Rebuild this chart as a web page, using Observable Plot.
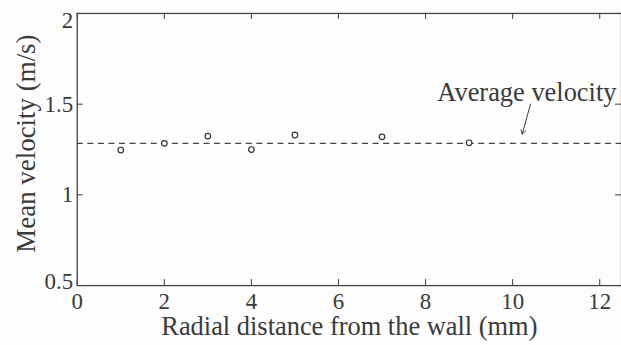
<!DOCTYPE html>
<html>
<head>
<meta charset="utf-8">
<script src="https://cdn.jsdelivr.net/npm/d3@7"></script>
<script src="https://cdn.jsdelivr.net/npm/@observablehq/plot@0.6"></script>
<style>
  html, body { margin: 0; padding: 0; background: #fdfdfd; overflow: hidden; }
  #chart svg { display: block; }
</style>
</head>
<body>
<div id="chart"></div>
<script>
// Data
const distance = [1, 2, 3, 4, 5, 7, 9];               // mm
const velocity = [1.247, 1.284, 1.324, 1.25, 1.33, 1.32, 1.287]; // m/s
const averageVelocity = 1.284;
const xTicks = [0, 2, 4, 6, 8, 10, 12];
const yTicks = [0.5, 1, 1.5, 2];
const xTitle = "Radial distance from the wall (mm)";
const yTitle = "Mean velocity (m/s)";
const annotationText = "Average velocity";
const annotationPos = {x: 8.27, y: 1.515};
const arrowFrom = {x: 10.41, y: 1.50};
const arrowTo = {x: 10.22, y: 1.335};

const points = distance.map((d, i) => ({distance: d, velocity: velocity[i]}));
const yMid = yTicks.slice(1, -1);
const yFirst = yTicks.slice(0, 1);
const yLast = yTicks.slice(-1);

const W = 623, H = 345, mL = 77, mR = 0, mT = 13, mB = 59;
const innerW = W - mL - mR, innerH = H - mT - mB;
const ink = "#3a3a3a";
const font = "'Liberation Serif', 'Times New Roman', serif";
const yLabelOpts = {frameAnchor: "left", textAnchor: "end", dx: -4, text: d => String(d), fontSize: 23, fill: ink};

const chart = Plot.plot({
  width: W,
  height: H,
  marginLeft: mL,
  marginRight: mR,
  marginTop: mT,
  marginBottom: mB,
  style: {background: "transparent", fontFamily: font, color: ink},
  x: {domain: [0, 12.5], axis: null},
  y: {domain: [0.5, 2], axis: null},
  marks: [
    // tick labels
    Plot.text(xTicks, {x: d => d, frameAnchor: "bottom", lineAnchor: "top", dy: 7, text: d => String(d), fontSize: 23, fill: ink}),
    Plot.text(yMid, {y: d => d, ...yLabelOpts}),
    Plot.text(yFirst, {y: d => d, ...yLabelOpts, dy: -4}),
    Plot.text(yLast, {y: d => d, ...yLabelOpts, dy: 7}),
    // inward ticks: bottom, top, left, right
    Plot.tickX(xTicks, {x: d => d, insetTop: innerH - 6, stroke: ink, strokeWidth: 1}),
    Plot.tickX(xTicks, {x: d => d, insetBottom: innerH - 6, stroke: ink, strokeWidth: 1}),
    Plot.tickY(yTicks, {y: d => d, insetRight: innerW - 6, stroke: ink, strokeWidth: 1}),
    Plot.tickY(yTicks, {y: d => d, insetLeft: innerW - 6, stroke: ink, strokeWidth: 1}),
    // average velocity dashed line
    Plot.ruleY([averageVelocity], {stroke: "#444", strokeWidth: 1.1, strokeDasharray: "6,4.6"}),
    // measured points
    Plot.dot(points, {x: "distance", y: "velocity", r: 2.8, stroke: "#333", strokeWidth: 1.2, fill: "#fdfdfd"}),
    // annotation
    Plot.text([annotationText], {x: annotationPos.x, y: annotationPos.y, text: d => d, textAnchor: "start", lineAnchor: "bottom", fontSize: 26.5, fill: ink}),
    Plot.arrow([{x1: arrowFrom.x, y1: arrowFrom.y, x2: arrowTo.x, y2: arrowTo.y}], {x1: "x1", y1: "y1", x2: "x2", y2: "y2", stroke: ink, strokeWidth: 1, headLength: 7}),
    // axis titles
    Plot.text([xTitle], {frameAnchor: "bottom", text: d => d, dy: 50, fontSize: 26.5, fill: ink}),
    Plot.text([yTitle], {frameAnchor: "left", textAnchor: "middle", text: d => d, rotate: -90, dx: -51, dy: -6, fontSize: 27, fill: ink}),
    Plot.frame({stroke: "#444", strokeWidth: 1.3})
  ]
});

document.getElementById("chart").appendChild(chart);
</script>
</body>
</html>
